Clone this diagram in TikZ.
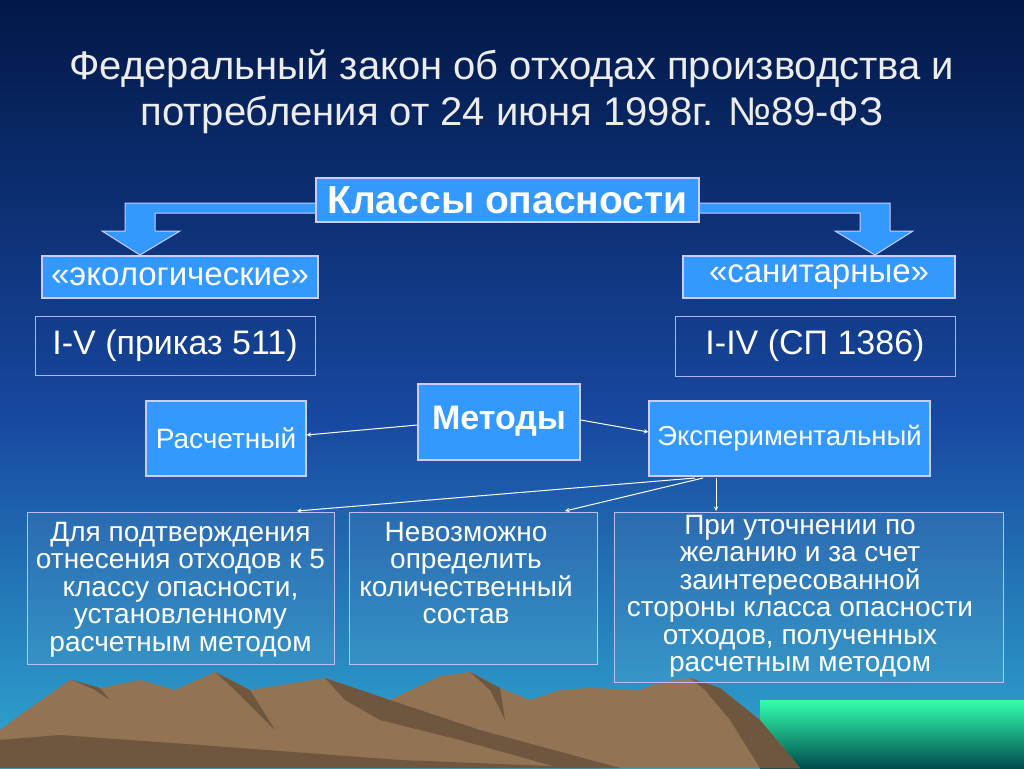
\documentclass[tikz,border=0pt]{standalone}
\usepackage{fontspec}
\setmainfont{Liberation Sans}
\begin{document}
\begin{tikzpicture}[x=1pt,y=-1pt,
  bluebox/.style={draw=white!80!blue, line width=1.2pt, fill=boxblue, text=white, inner sep=0pt},
  darkbox/.style={draw=white!70!blue, line width=0.8pt, text=white, inner sep=0pt},
  txtbox/.style={draw=white!75!blue, line width=0.8pt, fill=white, fill opacity=0.06, text opacity=1, text=white, inner sep=0pt},
  btxt/.style={text=white, align=center, font=\fontsize{28}{27.5}\selectfont, anchor=north, inner sep=0pt},
  arr/.style={->, >=stealth, white, line width=1pt}]
\definecolor{boxblue}{HTML}{3399FF}
\definecolor{bgtop}{HTML}{021848}
\definecolor{bgmid}{HTML}{1848A0}
\definecolor{bgbot}{HTML}{30A8D0}
\useasboundingbox (0,0) rectangle (1024,768);
\shade[top color=bgtop, bottom color=bgmid] (0,0) rectangle (1024,420);
\shade[top color=bgmid, bottom color=bgbot] (0,419.5) rectangle (1024,768);
% water
\shade[top color=cyan!60!green!80!white, bottom color=teal!60!black] (760,700) rectangle (1024,768);
% mountains
\fill[brown!55!gray!90!black] (0,730) -- (20,715) -- (70,680) -- (100,688) -- (140,680) -- (175,690) -- (215,672) -- (250,690) -- (325,678) -- (340,685) -- (390,700) -- (440,676) -- (470,672) -- (500,688) -- (530,700) -- (560,690) -- (590,688) -- (640,690) -- (660,682) -- (690,678) -- (720,688) -- (760,720) -- (800,768) -- (0,768) -- cycle;
\fill[brown!45!black!85] (72,680) -- (100,688) -- (110,700) -- (95,690) -- cycle;
\fill[brown!45!black!85] (215,672) -- (250,690) -- (275,730) -- (235,690) -- cycle;
\fill[brown!45!black!85] (325,678) -- (345,700) -- (380,720) -- (460,740) -- (560,768) -- (620,768) -- (480,730) -- (390,700) -- cycle;
\fill[brown!45!black!85] (470,672) -- (500,688) -- (505,720) -- (490,690) -- cycle;
\fill[brown!45!black!85] (690,678) -- (720,688) -- (760,720) -- (800,768) -- (760,768) -- (730,720) -- (705,690) -- cycle;
\fill[brown!45!black!85] (0,740) -- (60,735) -- (200,745) -- (400,760) -- (600,768) -- (0,768) -- cycle;
% title
\node[text=white!85!gray, align=center, font=\fontsize{40}{46}\selectfont] (title) at (512,92) {Федеральный закон об отходах производства и\\потребления от 24 июня 1998г. №89-ФЗ};
% bracket arrows
\draw[fill=boxblue, draw=white!80!blue, line width=1pt] (320,203) -- (125,203) -- (125,231) -- (102,231) -- (140,255) -- (180,231) -- (155,231) -- (155,213) -- (320,213);
\draw[fill=boxblue, draw=white!80!blue, line width=1pt] (695,203) -- (890,203) -- (890,231) -- (913,231) -- (875,255) -- (835,231) -- (860,231) -- (860,213) -- (695,213);
\node[bluebox, minimum width=383pt, minimum height=44pt, font=\bfseries\fontsize{39}{42}\selectfont] (kl) at (507.5,200) {Классы опасности};
\node[bluebox, minimum width=276pt, minimum height=42pt, font=\fontsize{33}{36}\selectfont] (eco) at (180,277) {«экологические»};
\node[bluebox, minimum width=272pt, minimum height=42pt, font=\fontsize{33}{36}\selectfont] (san) at (819,277) {«санитарные»};
\node[darkbox, minimum width=280pt, minimum height=59pt, font=\fontsize{34}{38}\selectfont] (i5) at (175,346) {I-V (приказ 511)};
\node[darkbox, minimum width=280pt, minimum height=60pt, font=\fontsize{34}{38}\selectfont] (i4) at (815,346) {I-IV (СП 1386)};
\node[bluebox, minimum width=162pt, minimum height=76pt, font=\bfseries\fontsize{34}{38}\selectfont] (met) at (499,422) {\raisebox{8pt}{Методы}};
\node[bluebox, minimum width=160pt, minimum height=75pt, font=\fontsize{28}{32}\selectfont] (ras) at (226,438.5) {Расчетный};
\node[bluebox, minimum width=281pt, minimum height=75pt, font=\fontsize{27.5}{32}\selectfont] (exp) at (789.5,438.5) {\raisebox{6pt}{Экспериментальный}};
\node[txtbox, minimum width=307pt, minimum height=152pt, anchor=north] (b1) at (180.5,512) {};
\node[txtbox, minimum width=248pt, minimum height=152pt, anchor=north] (b2) at (473,512) {};
\node[txtbox, minimum width=389pt, minimum height=170pt, anchor=north] (b3) at (808.5,512) {};
\node[btxt] (t1) at (180.5,522) {Для подтверждения\\отнесения отходов к 5\\классу опасности,\\установленному\\расчетным методом};
\node[btxt] (t2) at (466,522) {Невозможно\\определить\\количественный\\состав};
\node[btxt] (t3) at (800,515) {При уточнении по\\желанию и за счет\\заинтересованной\\стороны класса опасности\\отходов, полученных\\расчетным методом};
\coordinate (e1) at (695,478);
\coordinate (e2) at (703,478);
\coordinate (e3) at (716,478);
\draw[arr] (met.west |- 0,425) -- (ras.east |- 0,435);
\draw[arr] (met.east |- 0,420) -- (exp.west |- 0,432);
\draw[arr] (e1) -- (297,511);
\draw[arr] (e2) -- (565,511);
\draw[arr] (e3) -- (716,511);
\end{tikzpicture}
\end{document}
